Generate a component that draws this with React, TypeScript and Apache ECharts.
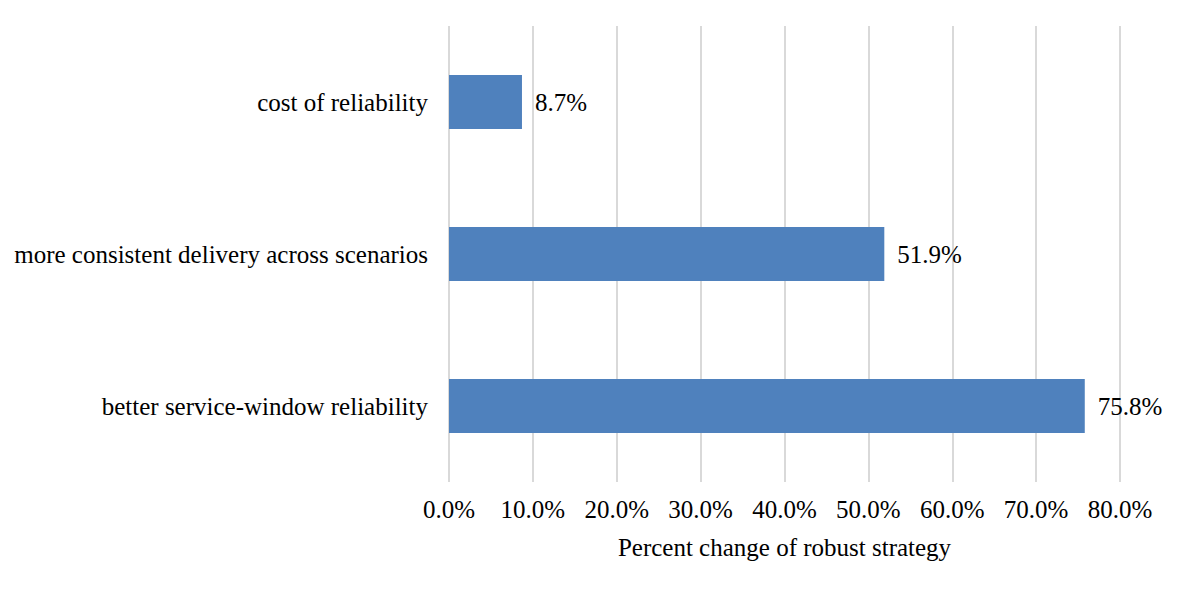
import React, { useEffect, useRef } from "react";
import * as echarts from "echarts";

const categories = [
  "better service-window reliability",
  "more consistent delivery across scenarios",
  "cost of reliability",
];
const values = [75.8, 51.9, 8.7];
const xMin = 0;
const xMax = 80;
const xInterval = 10;
const xAxisTitle = "Percent change of robust strategy";

const FONT = "'Liberation Serif', 'Times New Roman', serif";
const FS = 25;

export default function App() {
  const ref = useRef<HTMLDivElement>(null);
  useEffect(() => {
    if (!ref.current) return;
    const chart = echarts.init(ref.current, undefined, { renderer: "svg" });
    chart.setOption({
      animation: false,
      grid: { left: 449, right: 58, top: 26, bottom: 107, containLabel: false },
      xAxis: {
        type: "value",
        min: xMin,
        max: xMax,
        interval: xInterval,
        name: xAxisTitle,
        nameLocation: "middle",
        nameGap: 53,
        nameTextStyle: { fontFamily: FONT, fontSize: FS, color: "#000" },
        axisLine: { show: false },
        axisTick: { show: false },
        axisLabel: {
          fontFamily: FONT,
          fontSize: FS,
          color: "#000",
          margin: 15,
          formatter: (v: number) => v.toFixed(1) + "%",
        },
        splitLine: { show: true, lineStyle: { color: "#d9d9d9", width: 2 } },
      },
      yAxis: {
        type: "category",
        data: categories,
        axisLine: { show: false },
        axisTick: { show: false },
        axisLabel: { fontFamily: FONT, fontSize: FS, color: "#000", margin: 21 },
        splitLine: { show: false },
      },
      series: [
        {
          type: "bar",
          data: values,
          barWidth: 54,
          itemStyle: { color: "#4f81bd" },
          label: {
            show: true,
            position: "right",
            distance: 13,
            fontFamily: FONT,
            fontSize: FS,
            color: "#000",
            formatter: (p: any) => Number(p.value).toFixed(1) + "%",
          },
        },
      ],
    });
    return () => chart.dispose();
  }, []);
  return <div ref={ref} style={{ width: 1178, height: 589, position: "absolute", left: 0, top: 0, background: "#fff" }} />;
}
